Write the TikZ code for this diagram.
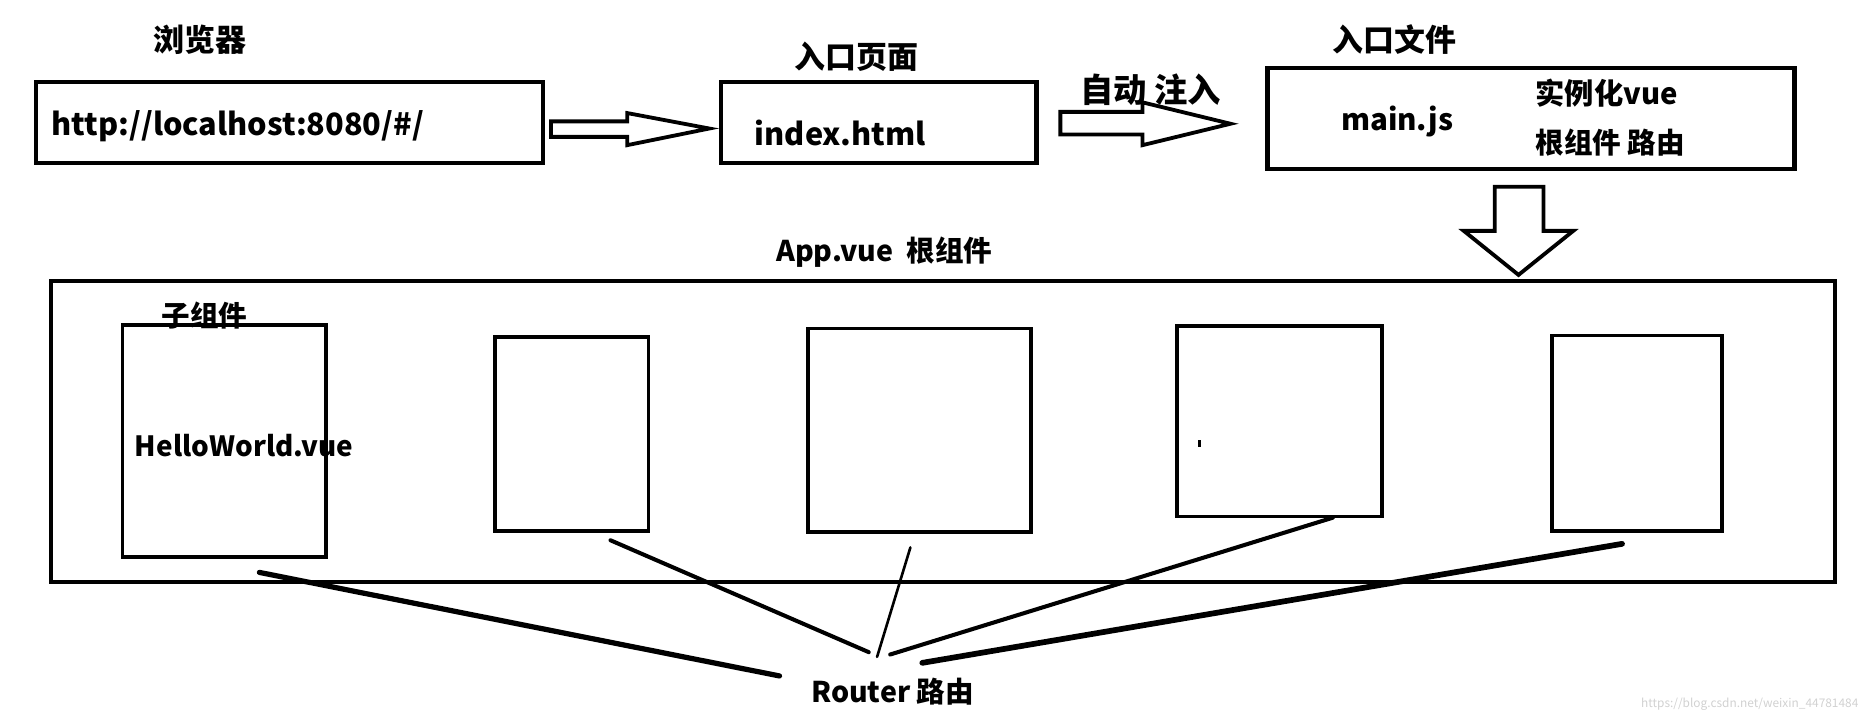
\documentclass[tikz,border=0pt]{standalone}
\usepackage{fontspec}
\setmainfont{Noto Sans CJK SC}
\begin{document}
\begin{tikzpicture}[x=0.5pt,y=-0.5pt,
  box/.style={draw, line width=1.8pt, inner sep=0pt},
  cbox/.style={draw, line width=1.6pt, inner sep=0pt},
  harrow/.style={draw, line width=1.6pt, line join=miter, fill=white},
  txt/.style={inner sep=0pt, font=\bfseries\fontsize{#1}{#1}\selectfont},
  link/.style={line width=#1, line cap=round}]
\useasboundingbox (0,0) rectangle (1568,608);
% top row
\node[txt=13] (browser) at (168,33) {浏览器};
\node[box, minimum width=213pt, minimum height=34pt] (url) at (243,103) {};
\node[txt=12.9, anchor=west] (urltxt) at (43,106) {http://localhost:8080/\#/};
\node[txt=13] (entrypage) at (720,48) {入口页面};
\node[box, minimum width=132.5pt, minimum height=34pt] (index) at (738.5,103) {};
\node[txt=12.9] (indextxt) at (706,112) {index.html};
\node[txt=14] (auto) at (967,75) {自动 注入};
\node[txt=13] (entryfile) at (1172,33) {入口文件};
\node[box, minimum width=221.5pt, minimum height=42.5pt] (main) at (1286.5,99.5) {};
\node[txt=12.4] (maintxt) at (1174,102) {main.js};
\node[txt=12.3, anchor=west] (inst) at (1290,78) {实例化vue};
\node[txt=12, anchor=west] (rootr) at (1290,120) {根组件 路由};
% hollow arrows
\draw[harrow] (463,102) -- (527,102) -- (527,95) -- (596,108) -- (527,122) -- (527,115) -- (463,115) -- cycle;
\draw[harrow] (891,94) -- (960,94) -- (960,86) -- (1034,104) -- (960,122) -- (960,113) -- (891,113) -- cycle;
\draw[harrow] (1256,157) -- (1297,157) -- (1297,194) -- (1322,194) -- (1276,231) -- (1230,194) -- (1256,194) -- cycle;
% App.vue
\node[txt=12] (apptxt) at (743,212) {App.vue\ \ 根组件};
\node[box, minimum width=749.5pt, minimum height=126.5pt] (app) at (792.5,362.5) {};
% child components
\node[cbox, minimum width=85.5pt, minimum height=97.5pt] (ca) at (188.5,370.5) {};
\node[cbox, minimum width=64.5pt, minimum height=81.5pt] (cb) at (480.5,364.5) {};
\node[cbox, minimum width=93.5pt, minimum height=85.5pt] (cc) at (772.5,361.5) {};
\node[cbox, minimum width=86pt, minimum height=80pt] (cd) at (1075,354) {};
\node[cbox, minimum width=71.5pt, minimum height=82pt] (ce) at (1375.5,364) {};
\node[txt=12] (child) at (172,265) {子组件};
\node[txt=11.7, anchor=west] (hw) at (113,374) {HelloWorld.vue};
\fill (1006.5,370) rectangle (1009.5,376);
% router
\node[txt=12] (router) at (750,581) {Router 路由};
\coordinate (s1) at (218,481);
\coordinate (s2) at (513,454);
\coordinate (s3) at (765,460);
\coordinate (s4) at (1120,435);
\coordinate (s5) at (1363,457);
\coordinate (t1) at (655,568);
\coordinate (t2) at (730,548);
\coordinate (t3) at (737,552);
\coordinate (t4) at (748,550);
\coordinate (t5) at (775,557);
\draw[link=2.2pt] (s1) -- (t1);
\draw[link=1.7pt] (s2) -- (t2);
\draw[link=1.1pt] (s3) -- (t3);
\draw[link=1.7pt] (s4) -- (t4);
\draw[link=2.4pt] (s5) -- (t5);
% watermark
\node[inner sep=0pt, anchor=east, text=black!18, font=\fontsize{5}{5}\selectfont] (wm) at (1562,592) {https://blog.csdn.net/weixin\_44781484};
\end{tikzpicture}
\end{document}
